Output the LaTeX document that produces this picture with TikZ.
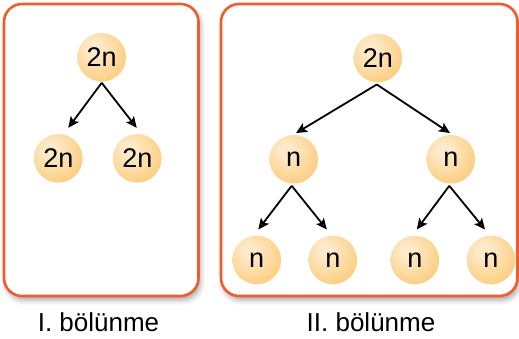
\documentclass[tikz,border=0pt]{standalone}
\usepackage{fontspec}
\setmainfont{Liberation Sans}
\usetikzlibrary{arrows.meta,calc,shadows.blur}
\definecolor{ballin}{HTML}{FEEACB}
\definecolor{ballout}{HTML}{FBC870}
\definecolor{panelorange}{HTML}{F25C2C}
\pgfdeclareradialshading{ballshade}{\pgfpoint{-9bp}{11bp}}{color(0bp)=(ballin); color(6bp)=(ballin); color(38bp)=(ballout); color(70bp)=(ballout)}
\tikzset{
  ball/.style={circle, minimum size=48.6pt, inner sep=0pt, shading=ballshade,
    font=\fontsize{27}{30}\selectfont, text=black},
  panel/.style={draw=panelorange, line width=2.6pt, rounded corners=18pt, fill=white,
    blur shadow={shadow xshift=2pt, shadow yshift=-4pt, shadow blur radius=5pt, shadow opacity=35}},
  arr/.style={line width=1.8pt, -{Stealth[length=11pt,width=10pt,inset=2.5pt]}},
  caption/.style={anchor=base, font=\fontsize{26}{30}\selectfont, text=black, inner sep=0pt}
}
\begin{document}
\begin{tikzpicture}[x=1pt,y=-1pt]
\useasboundingbox (0,0) rectangle (519,339);
% panels
\path[panel] (4,4) rectangle (198.5,296);
\path[panel] (221,4) rectangle (517.5,296);
% left panel
\node[ball] (a) at (101.7,57.3) {2n};
\node[ball] (a1) at (58.3,158.3) {2n};
\node[ball] (a2) at (137.3,158.3) {2n};
\draw[arr] ([yshift=-1pt]a.south) -- ($(a1.north)+(10,-6)$);
\draw[arr] ([yshift=-1pt]a.south) -- ($(a2.north)+(-0.6,-6)$);
% right panel
\node[ball] (r) at (377.8,58) {2n};
\node[ball] (n1) at (293.7,159.3) {n};
\node[ball] (n2) at (450.8,159.3) {n};
\node[ball] (l1) at (256.7,260) {n};
\node[ball] (l2) at (332.8,260) {n};
\node[ball] (l3) at (414.8,260) {n};
\node[ball] (l4) at (491,260) {n};
\draw[arr] ([xshift=-1pt,yshift=-2pt]r.south) -- ($(n1.north)+(2.3,-1.7)$);
\draw[arr] ([xshift=-1pt,yshift=-2pt]r.south) -- ($(n2.north)+(-0.8,-1.7)$);
\draw[arr] ([xshift=-2pt,yshift=-2pt]n1.south) -- ($(l1.north)+(1.6,-6)$);
\draw[arr] ([xshift=-2pt,yshift=-2pt]n1.south) -- ($(l2.north)+(-6,-6)$);
\draw[arr] ([xshift=-1.5pt,yshift=-2pt]n2.south) -- ($(l3.north)+(2,-6)$);
\draw[arr] ([xshift=-1.5pt,yshift=-2pt]n2.south) -- ($(l4.north)+(-6,-6)$);
% captions
\node[caption] (c1) at (98.5,331) {I. bölünme};
\node[caption] (c2) at (371,331) {II. bölünme};
\end{tikzpicture}
\end{document}
